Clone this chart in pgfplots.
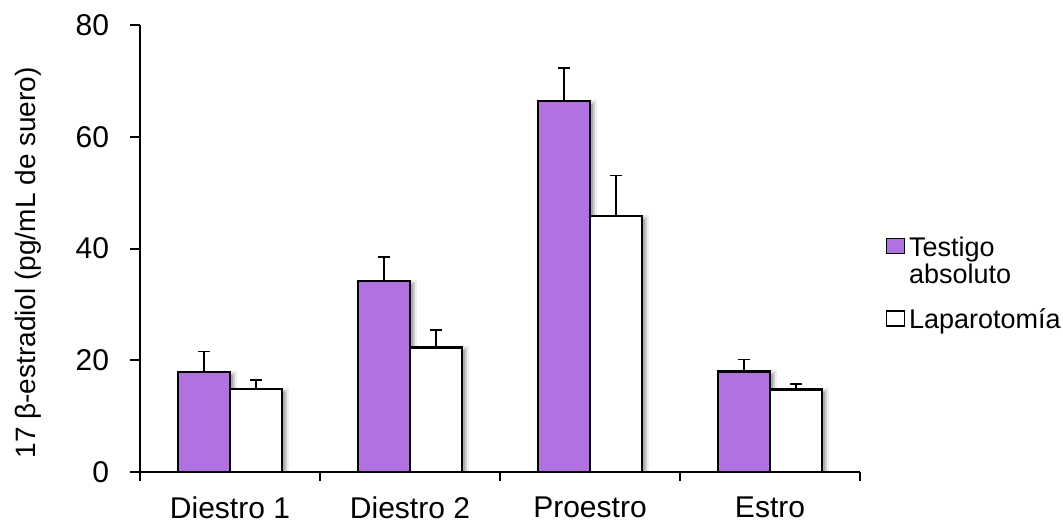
\documentclass[border=0pt]{standalone}
\usepackage{pgfplots}
\pgfplotsset{compat=1.18}
\usepackage{fontspec}
\setmainfont{Liberation Sans}
\definecolor{testigo}{RGB}{177,113,224}

\pgfplotstableread{
x  y     e
0  17.9  3.7
1  34.2  4.3
2  66.4  5.9
3  18.0  2.1
}\testigotbl
\pgfplotstableread{
x  y     e
0  14.9  1.6
1  22.3  3.1
2  45.8  7.3
3  14.8  1.0
}\laparotbl

\pgfplotsset{
  soft shadow/.style={forget plot, fill=black, draw=black, opacity=#1,
    xshift=1.5bp, yshift=-1.5bp},
  square low/.style={legend image code/.code={%
    \draw[##1, line width=0.8bp] (0bp,-3bp) rectangle (9bp,4.5bp);}},
  square high/.style={legend image code/.code={%
    \draw[##1, line width=0.8bp] (0bp,4bp) rectangle (9bp,11.5bp);}},
}

\begin{document}
\begin{tikzpicture}
\path[use as bounding box] (0,0) rectangle (531.5bp,261.5bp);
\begin{axis}[
  at={(70bp,25.5bp)}, anchor=south west,
  scale only axis, width=360bp, height=223.5bp,
  ybar, bar width=26bp,
  xmin=-0.5, xmax=3.5, ymin=0, ymax=80,
  axis x line*=bottom, axis y line*=left,
  x axis line style={-, line width=1bp},
  y axis line style={-, line width=1bp},
  xtick={0,1,2,3},
  xticklabels={Diestro 1, Diestro 2, Proestro, Estro},
  minor xtick={-0.5,0.5,1.5,2.5,3.5},
  ytick={0,20,40,60,80},
  tick align=outside,
  major x tick style={draw=none},
  major tick length=5bp, minor tick length=4.5bp,
  every tick/.style={black, line width=1bp},
  tick label style={font=\fontsize{15bp}{18bp}\selectfont},
  /pgf/number format/assume math mode=true,
  xticklabel style={yshift=-4bp},
  yticklabel style={xshift=-7bp},
  ylabel={17 β-estradiol (pg/mL de suero)},
  every axis y label/.style={at={(axis description cs:-0.1556,0.468)},
    rotate=90, anchor=center, font=\fontsize{14bp}{16bp}\selectfont},
  legend style={at={(rel axis cs:1.035,0.545)}, anchor=north west, xshift=-3bp,
    draw=none, fill=none, font=\fontsize{13.5bp}{13.5bp}\selectfont,
    row sep=7bp, nodes={align=left}},
  legend cell align=left,
  square low,
  error bars/error bar style={black, line width=0.8bp},
  error bars/error mark options={rotate=90, mark size=3bp, black, line width=0.8bp},
]
% soft drop shadows behind the bars
\addplot[soft shadow=0.07, line width=4bp, bar shift=-13bp] table[x=x, y=y] {\testigotbl};
\addplot[soft shadow=0.12, line width=2bp, bar shift=-13bp] table[x=x, y=y] {\testigotbl};
\addplot[soft shadow=0.07, line width=4bp, bar shift=13bp] table[x=x, y=y] {\laparotbl};
\addplot[soft shadow=0.12, line width=2bp, bar shift=13bp] table[x=x, y=y] {\laparotbl};

\addplot[fill=testigo, draw=black, line width=1.2bp, bar shift=-13bp, square high,
  error bars/.cd, y dir=plus, y explicit]
  table[x=x, y=y, y error=e] {\testigotbl};
\addlegendentry{Testigo\\absoluto}
\addplot[fill=white, draw=black, line width=1.2bp, bar shift=13bp,
  error bars/.cd, y dir=plus, y explicit]
  table[x=x, y=y, y error=e] {\laparotbl};
\addlegendentry{Laparotomía}
\end{axis}
\end{tikzpicture}
\end{document}
